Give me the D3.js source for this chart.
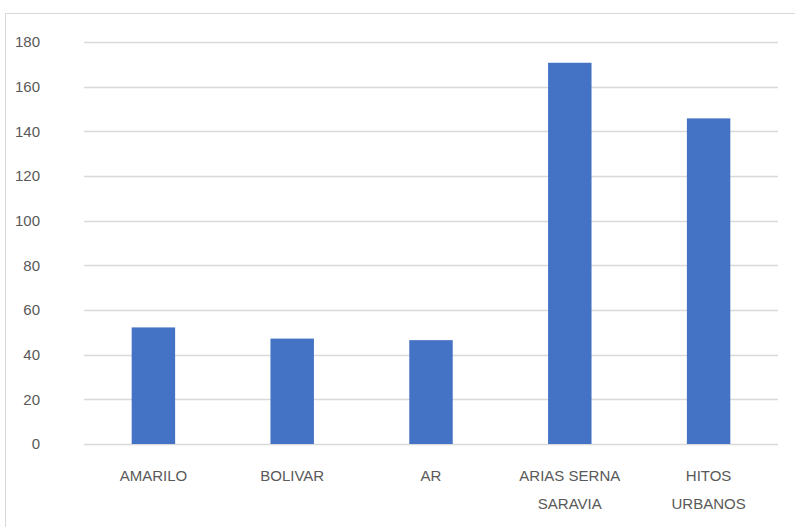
<!DOCTYPE html>
<html>
<head>
<meta charset="utf-8">
<script src="https://d3js.org/d3.v7.min.js"></script>
<style>
  body { margin: 0; background: #fff; }
  svg text { font-family: "Liberation Sans", Arial, sans-serif; fill: #595959; }
</style>
</head>
<body>
<div id="chart"></div>
<script>
// chart data
var categories = ["AMARILO", "BOLIVAR", "AR", "ARIAS SERNA|SARAVIA", "HITOS|URBANOS"];
var values = [52.2, 47.2, 46.5, 170.7, 145.8];
var yTicks = [0, 20, 40, 60, 80, 100, 120, 140, 160, 180];

var W = 795, H = 527;
var margin = {top: 42, right: 17, bottom: 83, left: 84};
var width = W - margin.left - margin.right,
    height = H - margin.top - margin.bottom;

var svg = d3.select("#chart").append("svg")
  .attr("width", W)
  .attr("height", H);

// chart frame
svg.append("rect")
  .attr("x", 5.5).attr("y", 13.5)
  .attr("width", W + 10).attr("height", H + 10)
  .attr("fill", "none")
  .attr("stroke", "#d9d9d9");

var g = svg.append("g")
  .attr("transform", "translate(" + margin.left + "," + margin.top + ")");

var x = d3.scaleBand()
  .domain(categories)
  .range([0, width])
  .paddingInner(0.687)
  .paddingOuter(0.3435);

var y = d3.scaleLinear()
  .domain([0, 180])
  .range([height, 0]);

// gridlines
g.append("g")
  .selectAll("line")
  .data(yTicks)
  .enter().append("line")
    .attr("x1", 0).attr("x2", width)
    .attr("y1", function(d) { return Math.round(y(d)) + 0.5; })
    .attr("y2", function(d) { return Math.round(y(d)) + 0.5; })
    .attr("stroke", "#d9d9d9")
    .attr("stroke-width", 1.5);

// y axis labels
var yAxis = g.append("g")
  .call(d3.axisLeft(y).tickValues(yTicks).tickSize(0).tickPadding(44));
yAxis.attr("font-family", null).attr("font-size", null);
yAxis.select(".domain").remove();
yAxis.selectAll("text")
  .style("font-size", "15px")
  .attr("fill", "#595959");

// bars
g.selectAll(".bar")
  .data(values)
  .enter().append("rect")
    .attr("class", "bar")
    .attr("x", function(d, i) { return x(categories[i]); })
    .attr("width", x.bandwidth())
    .attr("y", function(d) { return y(d); })
    .attr("height", function(d) { return y(0) - y(d); })
    .attr("fill", "#4472c4");

// x labels (multi-line)
var xl = g.append("g")
  .selectAll("text")
  .data(categories)
  .enter().append("text")
    .attr("text-anchor", "middle")
    .style("font-size", "15px")
    .attr("x", function(d) { return x(d) + x.bandwidth() / 2; })
    .attr("y", height + 37);
xl.each(function(d) {
  var lines = d.split("|");
  var t = d3.select(this);
  lines.forEach(function(l, j) {
    t.append("tspan")
      .attr("x", t.attr("x"))
      .attr("dy", j === 0 ? 0 : 28)
      .text(l);
  });
});
</script>
</body>
</html>
